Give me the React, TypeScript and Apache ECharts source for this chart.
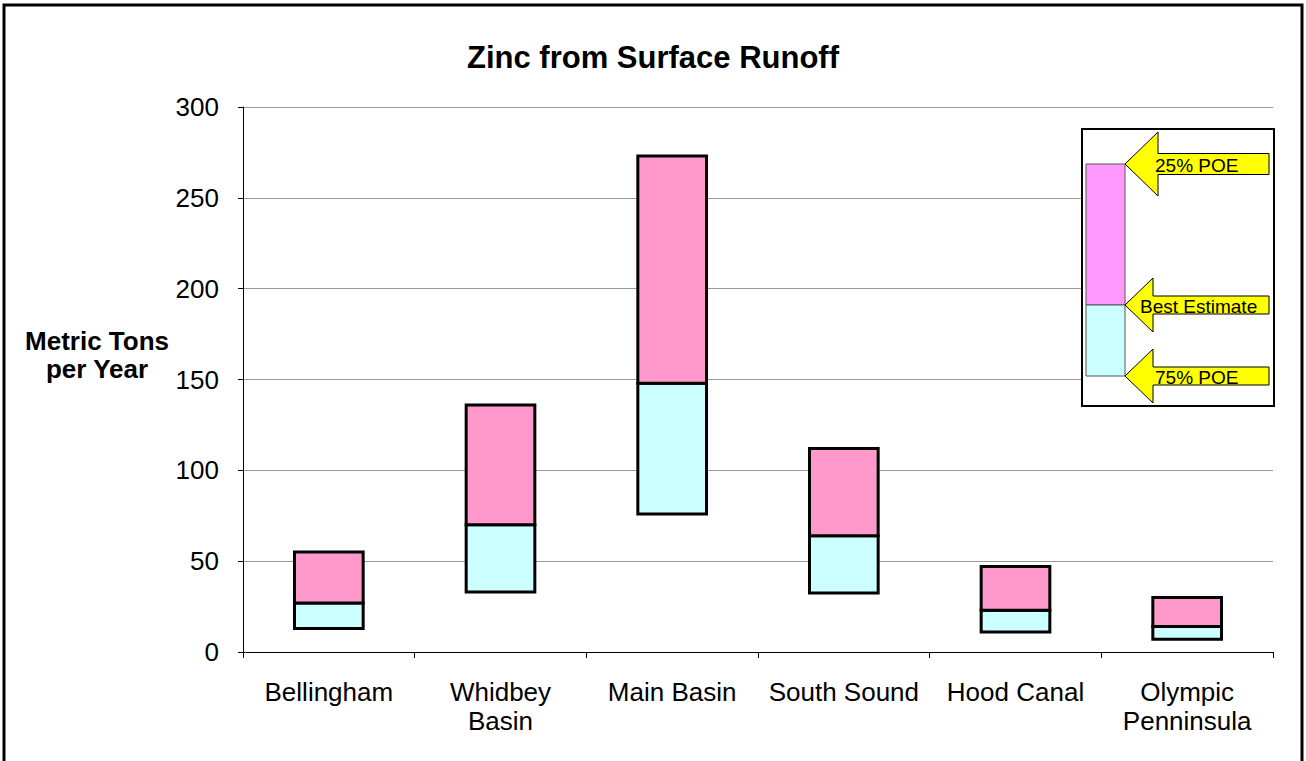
import React, { useEffect, useRef } from "react";
import * as echarts from "echarts";

const categories = ["Bellingham", "Whidbey\nBasin", "Main Basin", "South Sound", "Hood Canal", "Olympic\nPenninsula"];
const poe75 = [13, 33, 76, 32.5, 11, 7];
const bestEstimate = [27, 70, 148, 64, 23, 14];
const poe25 = [55, 136, 273, 112, 47, 30];
const yTicks = { min: 0, max: 300, interval: 50 };

const FONT = "'Liberation Sans', Arial, sans-serif";
const FONT_NAME = "Liberation Sans";

export default function App() {
  const ref = useRef<HTMLDivElement>(null);
  useEffect(() => {
    document.body.style.margin = "0";
    const chart = echarts.init(ref.current!, null, { renderer: "svg" });
    const arrow = (tipX: number, tipY: number, baseX: number, half: number, shaftHalf: number) => ({
      type: "polygon",
      shape: {
        points: [
          [tipX, tipY],
          [baseX, tipY - half],
          [baseX, tipY - shaftHalf],
          [1269, tipY - shaftHalf],
          [1269, tipY + shaftHalf],
          [baseX, tipY + shaftHalf],
          [baseX, tipY + half],
        ],
      },
      style: { fill: "#FFFF00", stroke: "#000", lineWidth: 1 },
      z: 20,
    });
    const legendText = (x: number, y: number, t: string) => ({
      type: "text",
      x,
      y,
      style: { text: t, font: `19px ${FONT}`, fill: "#000", textVerticalAlign: "middle", textAlign: "left" },
      z: 21,
    });
    const data = categories.map((_, i) => [i, poe75[i], bestEstimate[i], poe25[i]]);
    chart.setOption({
      animation: false,
      backgroundColor: "#fff",
      title: {
        text: "Zinc from Surface Runoff",
        left: "center",
        top: 37,
        textStyle: { fontFamily: FONT_NAME, fontSize: 31, fontWeight: "bold", color: "#000" },
      },
      grid: { left: 243, right: 33, top: 107, bottom: 109 },
      xAxis: {
        type: "category",
        data: categories,
        axisLine: { lineStyle: { color: "#000", width: 1 } },
        axisTick: { show: true, length: 6, lineStyle: { color: "#000" } },
        axisLabel: { fontFamily: FONT_NAME, fontSize: 26, color: "#000", margin: 25, lineHeight: 29, interval: 0 },
      },
      yAxis: {
        type: "value",
        min: yTicks.min,
        max: yTicks.max,
        interval: yTicks.interval,
        axisLine: { show: true, lineStyle: { color: "#000", width: 1 } },
        axisTick: { show: true, length: 5, lineStyle: { color: "#000" } },
        axisLabel: { fontFamily: FONT_NAME, fontSize: 26, color: "#000", margin: 24 },
        splitLine: { show: true, lineStyle: { color: "#999", width: 1 } },
      },
      series: [
        {
          type: "custom",
          data,
          encode: { x: 0, y: [1, 2, 3] },
          renderItem: (params: any, api: any) => {
            const idx = api.value(0);
            const x = api.coord([idx, 0])[0];
            const yLow = api.coord([idx, api.value(1)])[1];
            const yBest = api.coord([idx, api.value(2)])[1];
            const yTop = api.coord([idx, api.value(3)])[1];
            const w = api.size([1, 0])[0] * 0.4;
            return {
              type: "group",
              children: [
                {
                  type: "rect",
                  shape: { x: x - w / 2, y: yBest, width: w, height: yLow - yBest },
                  style: { fill: "#CCFFFF", stroke: "#000", lineWidth: 3 },
                },
                {
                  type: "rect",
                  shape: { x: x - w / 2, y: yTop, width: w, height: yBest - yTop },
                  style: { fill: "#FF99CC", stroke: "#000", lineWidth: 3 },
                },
              ],
            };
          },
        },
      ],
      graphic: [
        {
          type: "rect",
          shape: { x: 4, y: 5, width: 1298, height: 770 },
          style: { fill: "none", stroke: "#000", lineWidth: 3 },
          z: 30,
        },
        {
          type: "text",
          x: 97,
          y: 355,
          style: {
            text: "Metric Tons\nper Year",
            font: `bold 26px ${FONT}`,
            fill: "#000",
            textAlign: "center",
            textVerticalAlign: "middle",
            lineHeight: 28,
          },
        },
        {
          type: "rect",
          shape: { x: 1082, y: 129, width: 192, height: 277 },
          style: { fill: "#fff", stroke: "#000", lineWidth: 2 },
          z: 15,
        },
        {
          type: "rect",
          shape: { x: 1086, y: 164, width: 39, height: 141 },
          style: { fill: "#FF99FF", stroke: "#555", lineWidth: 1 },
          z: 16,
        },
        {
          type: "rect",
          shape: { x: 1086, y: 305, width: 39, height: 71 },
          style: { fill: "#CCFFFF", stroke: "#555", lineWidth: 1 },
          z: 16,
        },
        arrow(1125, 164, 1158, 32, 10.5),
        arrow(1125, 305, 1153, 27, 9),
        arrow(1125, 376, 1153, 27, 9),
        legendText(1155, 165, "25% POE"),
        legendText(1140, 306, "Best Estimate"),
        legendText(1155, 377, "75% POE"),
      ],
    });
    return () => chart.dispose();
  }, []);
  return <div ref={ref} style={{ width: 1306, height: 761 }} />;
}
